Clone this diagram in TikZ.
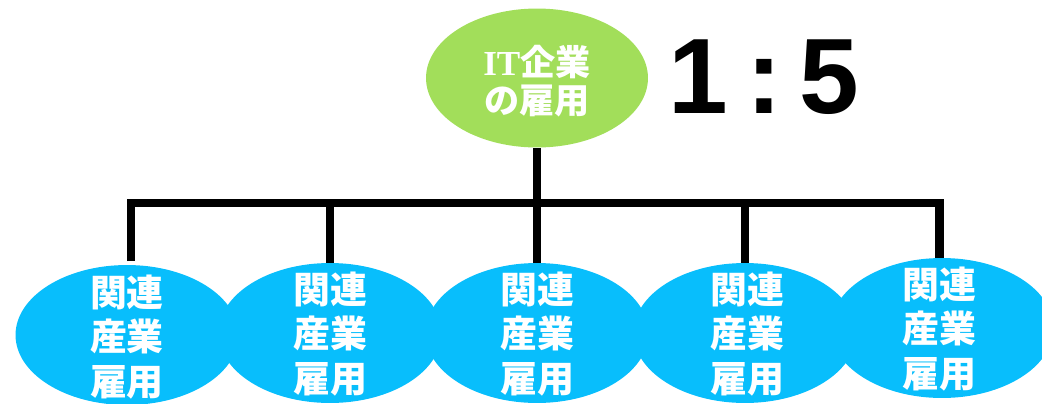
\documentclass[tikz,border=0pt]{standalone}
\usepackage{fontspec}
\setmainfont{Liberation Sans}
\newfontfamily\cjk{Noto Sans CJK JP}
\newfontfamily\latinserif{Liberation Serif}
\usetikzlibrary{
    shapes.geometric,
    positioning,
    calc
}
\definecolor{topgreen}{RGB}{162,222,90}
\definecolor{relblue}{RGB}{8,190,252}

\begin{document}
\begin{tikzpicture}[
    x=0.02cm, y=-0.02cm,
    topnode/.style={ellipse, inner sep=0pt, minimum width=4.44cm, minimum height=2.78cm, fill=topgreen},
    relnode/.style={ellipse, inner sep=0pt, minimum width=4.46cm, minimum height=2.8cm, fill=relblue},
    reltext/.style={align=center, text=white, font=\cjk\bfseries\fontsize{21pt}{25.5pt}\selectfont},
    toptext/.style={align=center, text=white, font=\cjk\bfseries\fontsize{20pt}{21.5pt}\selectfont},
    bar/.style={line width=4.6pt, draw=black}
]
    \useasboundingbox (0,0) rectangle (1042,403);

    % Related industries
    \node (rel1) [relnode] at (127,335) {};
    \node (rel2) [relnode] at (330,333) {};
    \node (rel3) [relnode] at (537,333) {};
    \node (rel4) [relnode] at (745,333) {};
    \node (rel5) [relnode] at (942,328) {};
    \node (rel1t) [reltext] at (127,337) {関連\\産業\\雇用};
    \node (rel2t) [reltext] at (330,334) {関連\\産業\\雇用};
    \node (rel3t) [reltext] at (537,334) {関連\\産業\\雇用};
    \node (rel4t) [reltext] at (747,334) {関連\\産業\\雇用};
    \node (rel5t) [reltext] at (939,329) {関連\\産業\\雇用};

    % IT companies
    \node (it) [topnode] at (537,78) {};
    \node (itt) [toptext] at (537,81) {{\latinserif IT}企業\\の雇用};
    \node (ratio) [font=\bfseries\fontsize{61pt}{61pt}\selectfont] at (764,77) {1\,:\,5};

    % Connections
    \coordinate (bus) at (537,203);
    \coordinate (drop1) at (131,261);
    \coordinate (drop5) at (939.5,258);
    \draw [bar] (drop1) |- (bus) -| (drop5);
    \draw [bar] (it.south) -- (rel3.north);
    \draw [bar] (rel2.north) -- (rel2.north |- bus);
    \draw [bar] (rel4.north) -- (rel4.north |- bus);

\end{tikzpicture}
\end{document}
